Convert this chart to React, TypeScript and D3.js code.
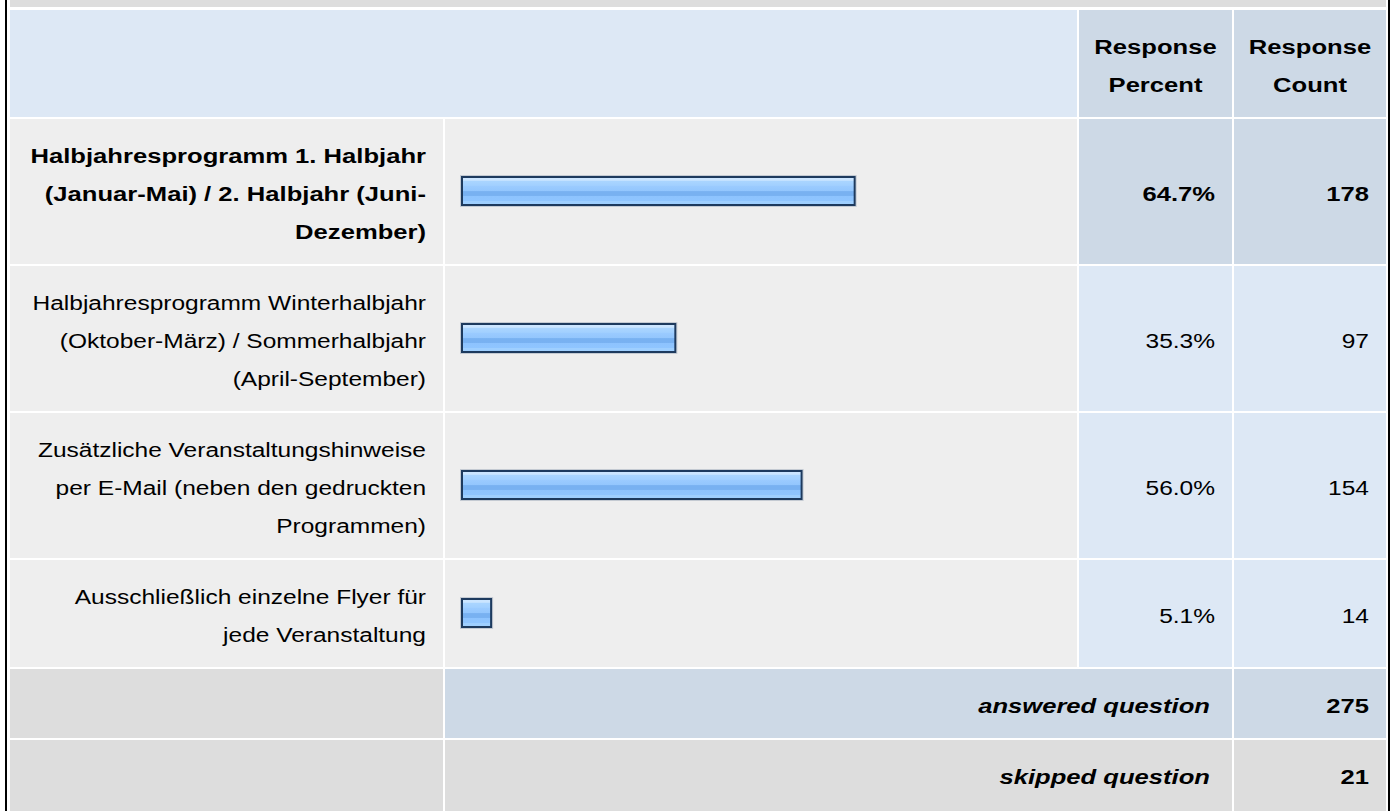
import * as d3 from 'd3';
import React, { useEffect, useRef } from 'react';

// answer options, one array entry per text line of the label cell
const answerLabels: string[][] = [
  ['Halbjahresprogramm 1. Halbjahr', '(Januar-Mai) / 2. Halbjahr (Juni-', 'Dezember)'],
  ['Halbjahresprogramm Winterhalbjahr', '(Oktober-März) / Sommerhalbjahr', '(April-September)'],
  ['Zusätzliche Veranstaltungshinweise', 'per E-Mail (neben den gedruckten', 'Programmen)'],
  ['Ausschließlich einzelne Flyer für', 'jede Veranstaltung'],
];
const responsePercent: number[] = [64.7, 35.3, 56.0, 5.1];
const responseCount: number[] = [178, 97, 154, 14];
const headerLabels: string[][] = [['Response', 'Percent'], ['Response', 'Count']];
const answeredQuestion = 275;
const skippedQuestion = 21;

const WIDTH = 1397;
const HEIGHT = 811;

const ResponseTable: React.FC = () => {
  const svgRef = useRef<SVGSVGElement>(null);

  useEffect(() => {
    if (!svgRef.current) return;
    document.body.style.margin = '0';

    const svg = d3.select(svgRef.current)
      .attr('width', WIDTH)
      .attr('height', HEIGHT);
    svg.selectAll('*').remove();

    const font = '"Liberation Sans", Arial, Helvetica, sans-serif';
    const lineH = 38;
    const gap = 2;
    // the source glyphs are rendered wider than plain Arial
    const stretchBold = 1.28;
    const stretchRegular = 1.225;

    // column edges
    const labelX0 = 10, labelX1 = 443;
    const barX0 = 445, barX1 = 1077;
    const pctX0 = 1079, pctX1 = 1232;
    const cntX0 = 1234, cntX1 = 1386;
    const padR = 17;

    const rowH = (lines: number) => lines * lineH + 31;

    // bar gradient
    const defs = svg.append('defs');
    const grad = defs.append('linearGradient')
      .attr('id', 'barGrad')
      .attr('x1', 0).attr('y1', 0).attr('x2', 0).attr('y2', 1);
    [
      [0, '#cbe5ff'], [0.12, '#cbe5ff'], [0.14, '#aad5ff'], [0.3, '#a2d0ff'],
      [0.32, '#9bcbff'], [0.5, '#93c6fd'], [0.52, '#78b1f1'], [0.66, '#78b1f1'],
      [0.68, '#8dc3fe'], [0.84, '#8fc5ff'], [0.86, '#9ecfff'], [1, '#9ecfff'],
    ].forEach(([o, c]) => grad.append('stop').attr('offset', o as number).attr('stop-color', c as string));

    // top strip of the table above and outer black frame
    svg.append('rect').attr('x', labelX0).attr('y', 0).attr('width', cntX1 - labelX0).attr('height', 7).attr('fill', '#dddddd');
    svg.append('rect').attr('x', 5).attr('y', 0).attr('width', 2).attr('height', HEIGHT).attr('fill', '#000');
    svg.append('rect').attr('x', 1388).attr('y', 0).attr('width', 2).attr('height', HEIGHT).attr('fill', '#000');

    const cell = (x0: number, x1: number, y: number, h: number, fill: string) =>
      svg.append('rect').attr('x', x0).attr('y', y).attr('width', x1 - x0).attr('height', h).attr('fill', fill);

    const textLines = (
      lines: string[], x: number, cy: number, anchor: string, weight = 'normal', style = 'normal',
    ) => {
      const k = weight === 'bold' ? stretchBold : stretchRegular;
      const t = svg.append('text')
        .attr('transform', `translate(${x},0) scale(${k},1)`)
        .attr('text-anchor', anchor)
        .style('font-family', font)
        .style('font-size', '20px')
        .style('font-weight', weight)
        .style('font-style', style)
        .attr('fill', '#000');
      lines.forEach((l, i) => {
        t.append('tspan')
          .attr('x', 0)
          .attr('y', cy + (i - (lines.length - 1) / 2) * lineH + 10)
          .text(l);
      });
    };

    // header row
    let y = 10;
    const hh = rowH(2);
    cell(labelX0, barX1, y, hh, '#dde8f5');
    cell(pctX0, pctX1, y, hh, '#cdd9e6');
    cell(cntX0, cntX1, y, hh, '#cdd9e6');
    textLines(headerLabels[0], (pctX0 + pctX1) / 2, y + hh / 2, 'middle', 'bold');
    textLines(headerLabels[1], (cntX0 + cntX1) / 2, y + hh / 2, 'middle', 'bold');
    y += hh + gap;

    const xScale = d3.scaleLinear().domain([0, 100]).range([0, 610]);
    const maxIdx = d3.maxIndex(responsePercent);

    answerLabels.forEach((lines, i) => {
      const h = rowH(lines.length);
      const cy = y + h / 2;
      const top = i === maxIdx;
      const valFill = top ? '#cdd9e6' : '#dde8f5';
      cell(labelX0, labelX1, y, h, '#eeeeee');
      cell(barX0, barX1, y, h, '#eeeeee');
      cell(pctX0, pctX1, y, h, valFill);
      cell(cntX0, cntX1, y, h, valFill);

      const weight = top ? 'bold' : 'normal';
      textLines(lines, labelX1 - padR, cy, 'end', weight);

      // bar with soft shadow + dark frame
      const bw = xScale(responsePercent[i]);
      const bx = barX0 + 16;
      const by = cy - 15.5;
      svg.append('rect')
        .attr('x', bx - 0.5).attr('y', by - 0.5)
        .attr('width', bw + 1).attr('height', 31)
        .attr('fill', 'none').attr('stroke', '#c4cad2').attr('stroke-width', 1);
      svg.append('rect')
        .attr('x', bx + 1).attr('y', by + 1)
        .attr('width', bw - 2).attr('height', 28)
        .attr('fill', 'url(#barGrad)')
        .attr('stroke', '#1d3a5e').attr('stroke-width', 2);

      textLines([`${responsePercent[i].toFixed(1)}%`], pctX1 - padR, cy, 'end', weight);
      textLines([String(responseCount[i])], cntX1 - padR, cy, 'end', weight);
      y += h + gap;
    });

    // summary rows
    const fh = rowH(1);
    cell(labelX0, labelX1, y, fh, '#dddddd');
    cell(barX0, pctX1, y, fh, '#cdd9e6');
    cell(cntX0, cntX1, y, fh, '#cdd9e6');
    textLines(['answered question'], pctX1 - 22, y + fh / 2, 'end', 'bold', 'italic');
    textLines([String(answeredQuestion)], cntX1 - padR, y + fh / 2, 'end', 'bold');
    y += fh + gap;

    cell(labelX0, labelX1, y, fh + 4, '#dddddd');
    cell(barX0, pctX1, y, fh + 4, '#dddddd');
    cell(cntX0, cntX1, y, fh + 4, '#dddddd');
    textLines(['skipped question'], pctX1 - 22, y + fh / 2, 'end', 'bold', 'italic');
    textLines([String(skippedQuestion)], cntX1 - padR, y + fh / 2, 'end', 'bold');
  }, []);

  return (
    <svg ref={svgRef} style={{ display: 'block', position: 'absolute', left: 0, top: 0 }} />
  );
};

export default function App() {
  return <ResponseTable />;
}
